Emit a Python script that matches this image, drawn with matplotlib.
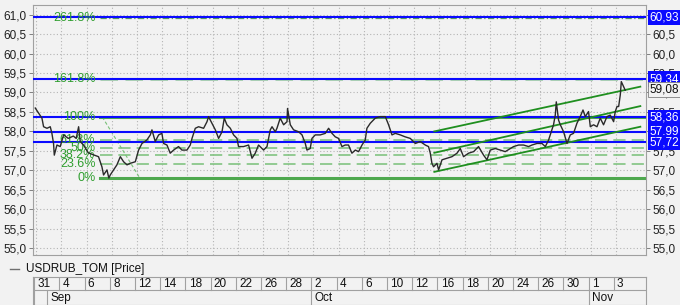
import matplotlib
matplotlib.use("Agg")
from matplotlib import pyplot as plt
from matplotlib.ticker import FuncFormatter, MultipleLocator
import matplotlib.transforms as mtransforms
from matplotlib.lines import Line2D

plt.rcParams['font.family'] = ['Liberation Sans', 'DejaVu Sans']

# position in trading days (0 = Aug 31) and USDRUB_TOM price
t_day = [0.08, 0.34, 0.61, 0.74, 1.01, 1.27, 1.40, 1.53, 1.59, 1.80, 2.06, 2.33, 2.70, 3.10, 3.33,
         3.52, 3.65, 3.91, 4.29, 4.68, 5.10, 5.37, 5.50, 5.77, 5.92, 6.03, 6.29, 6.56, 6.83, 7.09,
         7.36, 7.62, 8.02, 8.28, 8.55, 8.94, 9.21, 9.34, 9.60, 9.87, 10.13, 10.26, 10.53, 10.79,
         11.06, 11.45, 11.72, 12.12, 12.38, 12.52, 12.78, 13.04, 13.44, 13.71, 13.83, 14.10, 14.37,
         14.63, 14.90, 15.08, 15.29, 15.56, 15.82, 16.09, 16.21, 16.61, 17.01, 17.28, 17.54, 17.80,
         18.20, 18.47, 18.73, 18.87, 19.13, 19.26, 19.52, 19.79, 20.06, 20.10, 20.32, 20.58, 20.98,
         21.25, 21.51, 21.64, 21.90, 22.04, 22.30, 22.70, 23.10, 23.36, 23.63, 23.89, 24.15, 24.42,
         24.68, 24.94, 25.21, 25.48, 25.74, 26.01, 26.27, 26.40, 26.67, 27.06, 27.46, 27.86, 28.12,
         28.39, 28.65, 29.05, 29.44, 29.84, 30.24, 30.63, 31.03, 31.29, 31.43, 31.56, 31.69, 31.96,
         32.09, 32.36, 32.75, 33.15, 33.55, 33.81, 34.07, 34.47, 34.87, 35.26, 35.66, 35.93, 36.19,
         36.59, 36.98, 37.38, 37.78, 38.04, 38.44, 38.83, 39.23, 39.50, 39.90, 40.29, 40.56, 40.82,
         40.95, 41.21, 41.35, 41.43, 41.61, 41.75, 42.01, 42.28, 42.54, 42.80, 43.07, 43.33, 43.55,
         43.73, 43.99, 44.13, 44.39, 44.66, 44.92, 45.18, 45.45, 45.71, 45.98, 46.11, 46.25, 46.38,
         46.51, 46.59, 46.77, 46.90]
price = [58.60, 58.47, 58.34, 58.12, 58.08, 58.12, 57.95, 57.69, 57.39, 57.65, 57.61, 57.91, 57.82, 57.88, 57.82,
         58.12, 57.74, 57.65, 57.45, 57.40, 57.35, 57.09, 56.88, 57.01, 56.80, 56.88, 57.01, 57.14, 57.35, 57.22,
         57.14, 57.18, 57.22, 57.52, 57.69, 57.78, 57.91, 58.04, 57.74, 57.91, 57.95, 57.69, 57.65, 57.44,
         57.52, 57.61, 57.52, 57.52, 57.65, 57.82, 58.08, 58.12, 58.08, 58.25, 58.38, 58.21, 58.04,
         57.82, 57.99, 58.34, 58.17, 58.08, 57.91, 57.82, 57.61, 57.61, 57.65, 57.31, 57.44, 57.65,
         57.52, 57.61, 58.04, 58.12, 57.99, 58.08, 58.34, 58.17, 58.25, 58.59, 58.17, 58.04, 57.99,
         57.91, 57.69, 57.52, 57.56, 57.82, 57.91, 57.91, 57.95, 58.08, 57.95, 57.86, 57.82, 57.61,
         57.65, 57.65, 57.44, 57.52, 57.48, 57.65, 57.78, 58.08, 58.21, 58.34, 58.38, 58.38, 58.17,
         57.91, 57.95, 57.91, 57.86, 57.82, 57.69, 57.74, 57.65, 57.61, 57.44, 57.18, 57.09, 57.18,
         57.01, 57.27, 57.31, 57.35, 57.44, 57.56, 57.35, 57.44, 57.48, 57.61, 57.39, 57.27, 57.52,
         57.56, 57.52, 57.48, 57.56, 57.61, 57.65, 57.65, 57.61, 57.65, 57.69, 57.69, 57.61, 57.78,
         57.91, 58.17, 58.42, 58.76, 58.29, 58.17, 57.99, 57.69, 57.91, 57.95, 58.21, 58.38, 58.55,
         58.38, 58.51, 58.12, 58.17, 58.12, 58.34, 58.17, 58.38, 58.42, 58.25, 58.51, 58.64, 58.64,
         58.94, 59.28, 59.15, 59.06]
last_price = 59.08

# fibonacci retracement / extension
fib_low = 56.79
fib_high = 58.37
fib_pcts = [0, 23.6, 38.2, 50, 61.8, 100, 161.8, 261.8]
fib_start = 5.25
fib_diag_t = [5.4, 8.4]

# horizontal levels with price boxes
blue_levels = [60.93, 59.34, 58.36, 57.99, 57.72]

# trend channel
channel_t = [31.75, 48.1]
channel_upper = [58.00, 59.15]
channel_mid = [57.45, 58.65]
channel_lower = [56.96, 58.12]

day_labels = ['31', '4', '6', '8', '12', '14', '18', '20', '22', '26', '28', '2',
              '4', '6', '10', '12', '16', '18', '20', '24', '26', '30', '1', '3']
month_labels = ['Sep', 'Oct', 'Nov']
month_start = [1, 22, 44]

bg = '#f2f2f2'
frame = '#a0a0a0'
blue = '#0a0aff'
green_dark = '#1f8f1f'
green_mid = '#4ea84e'
green_light = '#78c078'

W, H = 680, 305
fig = plt.figure(figsize=(W / 100, H / 100), dpi=100, facecolor=bg)
ax = fig.add_axes([33 / W, 50 / H, 613 / W, 250 / H], facecolor=bg)

xmin, xmax = -0.1, 48.55
ax.set_xlim(xmin, xmax)
ax.set_ylim(54.823, 61.249)

# grid
for t in range(0, 48, 2):
    ax.axvline(t + 0.15, color='#b4b4b4', lw=0.8, ls=(0, (1, 2)), zorder=0)
ax.yaxis.set_major_locator(MultipleLocator(0.5))
ax.grid(axis='y', color='#b4b4b4', lw=0.8, ls=(0, (1, 2)), zorder=0)

# blue levels
for lv in blue_levels:
    ax.axhline(lv, color=blue, lw=1.5, zorder=3)

# fib levels
rng = fib_high - fib_low
for p in fib_pcts:
    lv = fib_low + p / 100 * rng
    if p in (0, 100):
        kw = dict(color=green_mid, lw=2.2, ls='-')
    elif p == 161.8:
        kw = dict(color='#9ccf9c', lw=1.8, ls=(0, (7, 3)))
    elif p == 261.8:
        kw = dict(color='#5a9a5a', lw=0.9, ls=(0, (5, 2, 1, 2)))
    else:
        kw = dict(color=green_light, lw=1.1, ls=(0, (8, 4)))
    ax.plot([fib_start, xmax], [lv, lv], zorder=2.5, **kw)
    ax.text(fib_start - 0.4, lv, f'{p:g}%', color='#2f9e2f', fontsize=9,
            ha='right', va='center', zorder=4)
ax.plot(fib_diag_t, [fib_high, fib_low], color=green_light, lw=0.8, ls=(0, (3, 2)), zorder=2)

# channel
for ys in (channel_upper, channel_mid, channel_lower):
    ax.plot(channel_t, ys, color=green_dark, lw=1.3, zorder=4)

# price
ax.plot(t_day, price, color='#2a2a2a', lw=1.0, zorder=5)

# axes styling
for s in ax.spines.values():
    s.set_color(frame)
    s.set_linewidth(0.8)
ax.set_xticks([])
ax.yaxis.set_major_formatter(FuncFormatter(lambda v, p: f'{v:.1f}'.replace('.', ',')))
ax.tick_params(axis='y', which='both', left=True, right=True, labelleft=True, labelright=True,
               length=3, width=0.7, color='#808080', pad=1.5, labelsize=8.5, labelcolor='#202020')

# price boxes on the right
trans = mtransforms.blended_transform_factory(ax.transAxes, ax.transData)
for lv in blue_levels:
    ax.text(1.006, lv, f'{lv:.2f}'.replace('.', ','), transform=trans, color='white',
            fontsize=8.5, ha='left', va='center', zorder=10, clip_on=False,
            bbox=dict(boxstyle='square,pad=0.15', facecolor=blue, edgecolor='none'))
ax.text(1.006, last_price, f'{last_price:.2f}'.replace('.', ','), transform=trans, color='#101010',
        fontsize=8.5, ha='left', va='center', zorder=10, clip_on=False,
        bbox=dict(boxstyle='square,pad=0.15', facecolor=bg, edgecolor='#808080', lw=0.6))

# legend
fig.add_artist(Line2D([10 / W, 19 / W], [1 - 269 / H, 1 - 269 / H], color='#707070', lw=1))
fig.text(26 / W, 1 - 269 / H, 'USDRUB_TOM [Price]', fontsize=8.5, va='center', ha='left',
         color='#101010')

# date bar
dax = fig.add_axes([33 / W, 0, 613 / W, 28 / H], facecolor=bg)
dax.set_xlim(xmin, xmax)
dax.set_ylim(0, 2)
dax.set_xticks([])
dax.set_yticks([])
for s in dax.spines.values():
    s.set_color(frame)
    s.set_linewidth(0.8)
dax.axhline(1.07, color=frame, lw=0.8)
for i, lab in enumerate(day_labels):
    t = 2 * i
    dax.plot([t, t], [1.07, 2], color=frame, lw=0.8)
    dax.text(t + 0.25, 1.5, lab, fontsize=8.5, ha='left', va='center', color='#101010')
dax.plot([0, 0], [0, 1.07], color=frame, lw=0.8)
for lab, t in zip(month_labels, month_start):
    dax.plot([t, t], [0, 1.07], color=frame, lw=0.8)
    dax.text(t + 0.25, 0.5, lab, fontsize=8.5, ha='left', va='center', color='#101010')

fig.savefig('out.png', dpi=100, facecolor=bg)
